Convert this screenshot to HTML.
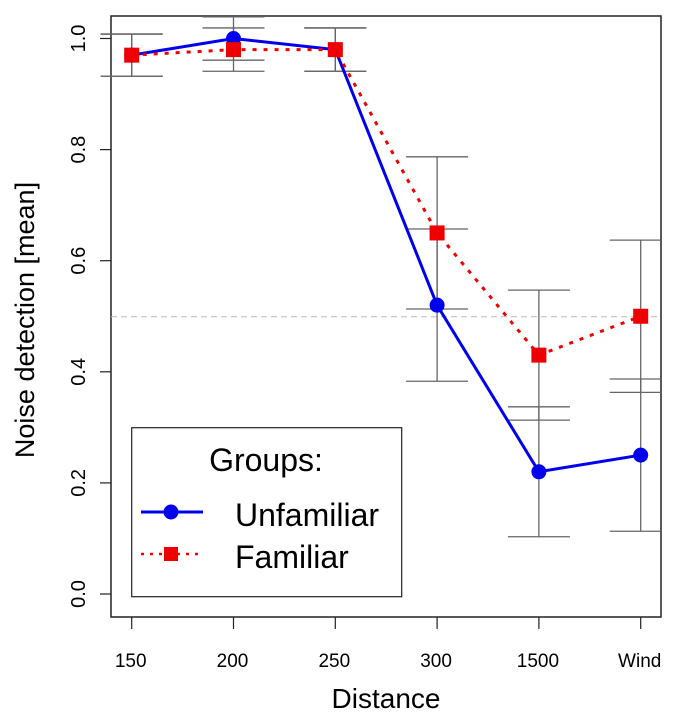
<!DOCTYPE html>
<html><head><meta charset="utf-8"><style>
body{margin:0;background:#fff}
svg{display:block;font-family:"Liberation Sans",Arial,sans-serif}
</style></head><body>
<svg id="chart" width="679" height="723" viewBox="0 0 679 723">
<rect x="111" y="16" width="550" height="601" fill="none" stroke="#222" stroke-width="1.5"/>
<g id="yaxis"></g>
<g id="xaxis"></g>
<line x1="111" x2="661" y1="316.75" y2="316.75" stroke="#bbb" stroke-dasharray="6,4"/>
<g id="errs"></g>
<g id="series"></g>
<text x="34" y="320" transform="rotate(-90 34 320)" text-anchor="middle" font-size="27">Noise detection [mean]</text>
<text x="386" y="708" text-anchor="middle" font-size="28">Distance</text>
<g>
<rect x="131.7" y="427.7" width="270" height="169" fill="#fff" stroke="#222" stroke-width="1.2"/>
<text x="266" y="471" text-anchor="middle" font-size="32">Groups:</text>
<g>
<line x1="141" x2="203" y1="512" y2="512" stroke="#0000ee" stroke-width="3"/>
<circle cx="171" cy="512" r="7.5" fill="#0000ee"/>
<text x="235" y="526" font-size="32">Unfamiliar</text></g>
<g>
<line x1="141" x2="203" y1="554" y2="554" stroke="#ee0000" stroke-width="2.5" stroke-dasharray="3,6"/>
<rect x="164" y="547" width="14" height="14" fill="#ee0000"/>
<text x="235" y="568" font-size="32">Familiar</text></g>
</g>
</svg>
<script>
const categories=["150","200","250","300","1500","Wind"];
const unfamiliar=[0.97,1.0,0.98,0.52,0.22,0.25];
const unfamiliarErr=[0.038,0.039,0.039,0.137,0.117,0.137];
const familiar=[0.97,0.98,0.98,0.65,0.43,0.50];
const familiarErr=[0.038,0.039,0.039,0.137,0.117,0.137];
const yTicks=[0,0.2,0.4,0.6,0.8,1.0];
const yTickLabels=["0.0","0.2","0.4","0.6","0.8","1.0"];
const NS="http://www.w3.org/2000/svg";
const xs=i=>131.7+i*101.8;
const ys=v=>594-v*555.5;
function mk(tag,attrs,parent){const e=document.createElementNS(NS,tag);for(const k in attrs)e.setAttribute(k,attrs[k]);parent.appendChild(e);return e;}
const ya=document.getElementById('yaxis');
yTicks.forEach((t,i)=>{
 const l=mk('line',{x1:100,x2:111,y1:ys(t),y2:ys(t),stroke:'#222','stroke-width':1.2},ya);
 
 
 const tx=mk('text',{x:85,y:ys(t),'font-size':20,'text-anchor':'middle',transform:`rotate(-90 85 ${ys(t)})`},ya);
 tx.textContent=yTickLabels[i];
 
 
});
const xa=document.getElementById('xaxis');
categories.forEach((c,i)=>{
 const l=mk('line',{x1:xs(i),x2:xs(i),y1:617,y2:629,stroke:'#222','stroke-width':1.2},xa);
 
 
 const tx=mk('text',{x:xs(i)-1,y:667,'font-size':19,'text-anchor':'middle'},xa);
 tx.textContent=c;
 
 
});
const eg=document.getElementById('errs');
function errs(vals,errsA,name){
 vals.forEach((v,i)=>{
  const x=xs(i),lo=ys(v-errsA[i]),hi=ys(v+errsA[i]);
  const g=mk('g',{stroke:'#666','stroke-width':1.3},eg);
  
  
  mk('line',{x1:x,x2:x,y1:lo,y2:hi},g);
  mk('line',{x1:x-31,x2:Math.min(x+31,661),y1:lo,y2:lo},g);
  mk('line',{x1:x-31,x2:Math.min(x+31,661),y1:hi,y2:hi},g);
 });
}
errs(unfamiliar,unfamiliarErr,'unfamiliar');
errs(familiar,familiarErr,'familiar');
const sg=document.getElementById('series');
const pu=mk('polyline',{points:unfamiliar.map((v,i)=>xs(i)+','+ys(v)).join(' '),fill:'none',stroke:'#0000ee','stroke-width':3},sg);


unfamiliar.forEach((v,i)=>{
 const p=mk('circle',{cx:xs(i),cy:ys(v),r:7.5,fill:'#0000ee'},sg);
 
 
});
const pf=mk('polyline',{points:familiar.map((v,i)=>xs(i)+','+ys(v)).join(' '),fill:'none',stroke:'#ee0000','stroke-width':3,'stroke-dasharray':'4,7'},sg);


familiar.forEach((v,i)=>{
 const x=xs(i),y=ys(v);
 const r=mk('rect',{x:x-7.5,y:y-7.5,width:15,height:15,fill:'#ee0000'},sg);
 
 
});
</script>
</body></html>
